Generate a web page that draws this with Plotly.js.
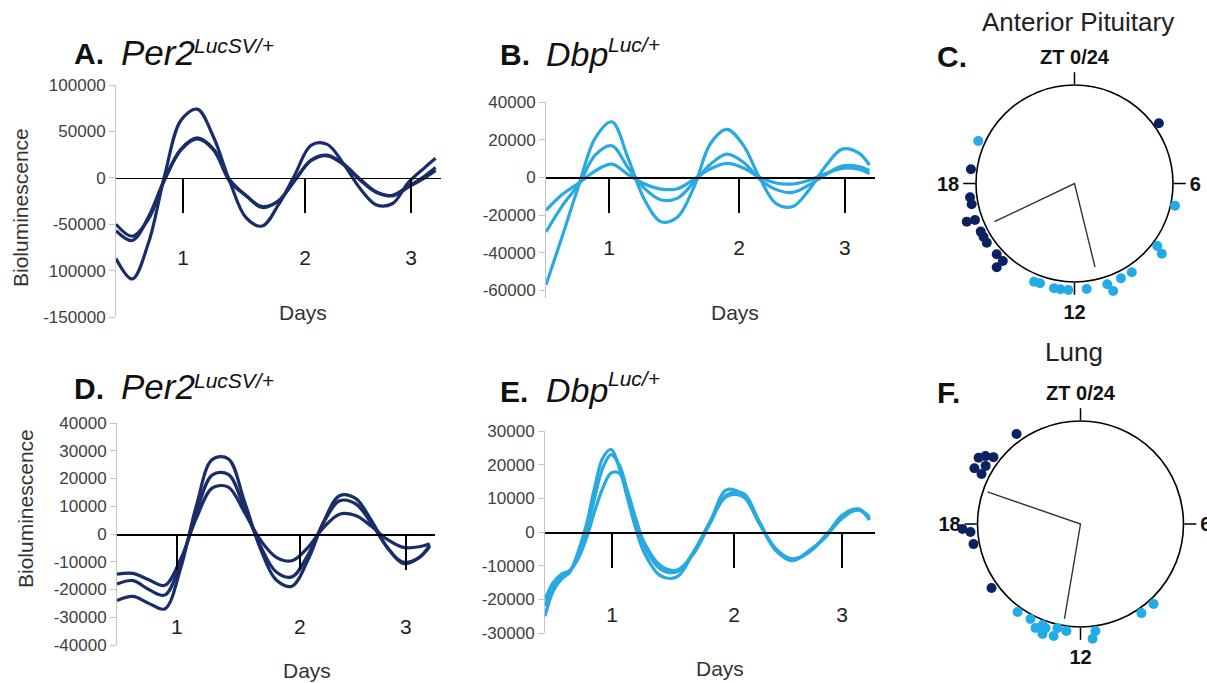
<!DOCTYPE html>
<html><head><meta charset="utf-8">
<script src="https://cdn.plot.ly/plotly-3.0.1.min.js"></script>
<style>html,body{margin:0;padding:0;background:#fff}#chart{width:1207px;height:683px}</style>
</head><body><div id="chart"></div>
<script>
// ---------------- DATA ----------------
// time in hours from start of recording
const timeStd = [0,3,6,9,12,15,18,21,24,27,30,33,36,39,42,45,48,51,54,57,59];
const timeE   = [0,1.5,3,4.5,6,7.5,9,10.5,12,13.5,15,16.5,18,21,24,27,30,33,36,39,42,45,48,51,54,57,59];

// A. Per2 LucSV/+ anterior pituitary
const per2AP_1 = [-87000,-109000,-70000,3000,62000,74000,44000,-4000,-43000,-52000,-29000,3000,35000,36000,15000,-11000,-29000,-28000,-5000,11000,21000];
const per2AP_2 = [-50000,-63000,-44500,-2000,30000,41800,30000,-4000,-19400,-32000,-24800,-2800,18400,23700,14200,-2000,-15500,-18800,-9000,2000,11000];
const per2AP_3 = [-57000,-67500,-42000,-1000,31000,43000,31000,-2000,-19000,-31000,-25000,-3000,19000,24500,15000,-1000,-15000,-19500,-10000,0,8000];
// B. Dbp Luc/+ anterior pituitary
const dbpAP_1 = [-57000,-31000,-4000,21000,29500,10000,-12000,-23500,-21000,-5000,18000,25500,17000,-500,-14000,-15500,-6500,6000,15000,13000,6500];
const dbpAP_2 = [-29000,-15000,-3500,12000,16800,5000,-6000,-12000,-11000,-2500,7000,12300,8000,-1000,-6500,-8000,-4000,1500,6000,5800,3500];
const dbpAP_3 = [-17500,-9000,-3000,3500,7000,1500,-3500,-6200,-6000,-1000,4500,7400,5000,0,-3000,-3500,-1500,2000,4800,4300,2000];
// D. Per2 LucSV/+ lung
const per2Lung_1 = [-24000,-22500,-25000,-27000,-12400,10400,26900,27100,12000,-5000,-16500,-18800,-9500,4500,13800,12800,4900,-4800,-10600,-8500,-4000];
const per2Lung_2 = [-18000,-16800,-20000,-22000,-10400,8000,21300,21500,9500,-4000,-13600,-15450,-7650,4150,11950,10900,3850,-4900,-10150,-8500,-4500];
const per2Lung_3 = [-14500,-14200,-16500,-18500,-9100,5800,16600,16900,8000,-2000,-8300,-9650,-4900,2400,7150,6650,2800,-1950,-4800,-4600,-3500];
// E. Dbp Luc/+ lung
const dbpLung_1 = [-25000,-17500,-14000,-12000,-6000,2000,13000,22000,24500,19000,10000,1000,-6000,-13000,-13300,-6000,3000,12500,11000,2500,-5500,-8500,-5500,-1500,5000,6800,3500];
const dbpLung_2 = [-22000,-16000,-13000,-11500,-7000,0,10000,19000,23000,20000,12000,3000,-4000,-11000,-11800,-6000,3000,10500,10500,2500,-5000,-8000,-6000,-1000,4500,6500,4500];
const dbpLung_3 = [-20000,-15000,-12500,-11500,-8000,-2000,6000,13000,17500,17500,12000,4000,-3000,-10000,-11300,-6500,2500,11000,11500,3000,-5500,-8300,-6000,-1500,4000,6800,4000];

// day tick positions (hours) and labels
const dayLabels = ['1','2','3'];
const dayPosA = [12.4,34.9,54.5];
const dayPosB = [11.5,35.2,54.5];
const dayPosD = [11.3,34.5,54.5];
const dayPosE = [12.2,34.4,54.0];

// y ticks
const yTicksA = [100000,50000,0,-50000,-100000,-150000];
const yTextA  = ['100000','50000','0','-50000','100000','-150000'];
const yTicksB = [40000,20000,0,-20000,-40000,-60000];
const yTicksD = [40000,30000,20000,10000,0,-10000,-20000,-30000,-40000];
const yTicksE = [30000,20000,10000,0,-10000,-20000,-30000];

// Phase plots: peak times (ZT hours) and plotted radius (circle = 1)
const clockTickZT = [0, 6, 12, 18];
const clockTickText = ['ZT 0/24', '6', '12', '18'];

const apPer2ZT = [3.63,18.52,17.5,17.24,16.7,16.66,16.19,15.98,15.73,15.18,14.85,14.86];
const apPer2R  = [1.053,1.061,1.07,1.065,1.16,1.076,1.07,1.07,1.075,1.068,1.072,1.16];
const apDbpZT  = [19.59,6.83,8.47,8.59,9.81,10.26,10.8,10.68,11.56,12.22,12.5,12.74,13.27,13.49];
const apDbpR   = [1.068,1.045,1.053,1.138,1.072,1.072,1.076,1.16,1.078,1.083,1.083,1.084,1.072,1.078];
const apMeanZT = [16.3, 11.08];
const apMeanR  = [0.90, 0.873];

const lungPer2ZT = [21.64,20.2,20.37,20.5,19.85,20.1,19.79,17.84,17.72,17.29,15.62];
const lungPer2R  = [1.072,1.18,1.134,1.066,1.164,1.08,1.077,1.147,1.071,1.057,1.064];
const lungDbpZT  = [14.37,13.85,13.56,13.37,13.24,13.27,12.9,12.83,12.5,11.47,11.6,9.71,9.17];
const lungDbpR   = [1.05,1.043,1.1,1.048,1.065,1.13,1.118,1.034,1.048,1.049,1.12,1.048,1.051];
const lungMeanZT = [19.27, 12.64];
const lungMeanR  = [0.955, 0.935];

// ---------------- STYLE / LAYOUT ----------------
const W = 1207, H = 683;
const fx = px => px / W;
const fy = py => 1 - py / H;
const FONT = 'Liberation Sans, Arial, sans-serif';
const NAVY = '#1a2d6b', SKY = '#29a9e1', NAVYDOT = '#0c2260', SKYDOT = '#22abe6';
const toDeg = h => h * 15;
const OUTER = 1.2;   // radial range of the data layer (circle sits at r = 1)

const traces = [];
function lineTrace(t, y, color, xa, ya) {
  traces.push({type: 'scatter', mode: 'lines', x: t, y: y, xaxis: xa, yaxis: ya,
    line: {color: color, width: 3.2, shape: 'spline', smoothing: 1}, hoverinfo: 'skip', showlegend: false});
}
[per2AP_1, per2AP_2, per2AP_3].forEach(s => lineTrace(timeStd, s, NAVY, 'x', 'y'));
[dbpAP_1, dbpAP_2, dbpAP_3].forEach(s => lineTrace(timeStd, s, SKY, 'x2', 'y2'));
[per2Lung_1, per2Lung_2, per2Lung_3].forEach(s => lineTrace(timeStd, s, NAVY, 'x3', 'y3'));
[dbpLung_1, dbpLung_2, dbpLung_3].forEach(s => lineTrace(timeE, s, SKY, 'x4', 'y4'));

function polarTraces(frameSub, dataSub, per2ZT, per2R, dbpZT, dbpR, meanZT, meanR) {
  // invisible trace so the frame subplot is drawn
  traces.push({type: 'scatterpolar', subplot: frameSub, mode: 'markers', r: [0], theta: [0],
    marker: {opacity: 0}, showlegend: false, hoverinfo: 'skip'});
  traces.push({type: 'scatterpolar', subplot: dataSub, mode: 'lines',
    r: [meanR[0], 0, meanR[1]], theta: [toDeg(meanZT[0]), toDeg(meanZT[0]), toDeg(meanZT[1])],
    line: {color: '#333', width: 1.4}, showlegend: false, hoverinfo: 'skip'});
  traces.push({type: 'scatterpolar', subplot: dataSub, mode: 'markers', cliponaxis: false,
    r: per2R, theta: per2ZT.map(toDeg), marker: {color: NAVYDOT, size: 10}, showlegend: false});
  traces.push({type: 'scatterpolar', subplot: dataSub, mode: 'markers', cliponaxis: false,
    r: dbpR, theta: dbpZT.map(toDeg), marker: {color: SKYDOT, size: 10}, showlegend: false});
}
polarTraces('polar', 'polar2', apPer2ZT, apPer2R, apDbpZT, apDbpR, apMeanZT, apMeanR);
polarTraces('polar3', 'polar4', lungPer2ZT, lungPer2R, lungDbpZT, lungDbpR, lungMeanZT, lungMeanR);

function xAxis(x0, x1, yAx, dayPos, standoff) {
  const pos = yAx.domain[0] + (0 - yAx.range[0]) / (yAx.range[1] - yAx.range[0]) * (yAx.domain[1] - yAx.domain[0]);
  return {domain: [fx(x0), fx(x1)], range: [0, 60], anchor: 'free', position: pos,
    showline: true, linecolor: '#000', linewidth: 1.6, showgrid: false, zeroline: false,
    ticks: 'outside', ticklen: 34, tickwidth: 1.6, tickcolor: '#000',
    tickvals: dayPos, ticktext: dayLabels, ticklabelstandoff: standoff,
    tickfont: {family: FONT, size: 21, color: '#222'}, fixedrange: true};
}
function yAxis(top, bottom, range, tv, tt, xa) {
  return {domain: [fy(bottom), fy(top)], range: range, anchor: xa,
    showline: true, linecolor: '#c4c4c4', linewidth: 1, showgrid: false, zeroline: false,
    ticks: 'outside', ticklen: 6, tickcolor: '#c4c4c4', tickvals: tv, ticktext: tt,
    tickfont: {family: FONT, size: 17, color: '#404040'}, fixedrange: true};
}
const yA = yAxis(85, 317, [-150000, 100000], yTicksA, yTextA, 'x');
const yB = yAxis(102, 298, [-64000, 40000], yTicksB, yTicksB.map(String), 'x2');
const yD = yAxis(423, 645, [-40000, 40000], yTicksD, yTicksD.map(String), 'x3');
const yE = yAxis(431, 633, [-30000, 30000], yTicksE, yTicksE.map(String), 'x4');

// frame polar: circle (r = 1), clock ticks and labels
function framePolar(cx, cy, rad) {
  return {domain: {x: [fx(cx - rad), fx(cx + rad)], y: [fy(cy + rad), fy(cy - rad)]}, bgcolor: '#fff',
    radialaxis: {visible: false, range: [0, 1]},
    angularaxis: {rotation: 90, direction: 'clockwise', tickvals: clockTickZT.map(toDeg),
      ticktext: clockTickText.map(s => '<b>' + s + '</b>'),
      ticks: 'outside', ticklen: 12, tickwidth: 1.5, tickcolor: '#000',
      linecolor: '#000', linewidth: 1.6, showgrid: false,
      tickfont: {family: FONT, size: 20, color: '#111'}}};
}
// data polar: same centre, larger radial range so marks can sit outside the circle
function dataPolar(cx, cy, rad) {
  const R = rad * OUTER;
  return {domain: {x: [fx(cx - R), fx(cx + R)], y: [fy(cy + R), fy(cy - R)]}, bgcolor: 'rgba(0,0,0,0)',
    radialaxis: {visible: false, range: [0, OUTER]},
    angularaxis: {visible: false, rotation: 90, direction: 'clockwise', showgrid: false, showline: false}};
}

function ann(text, px, py, size, opts) {
  return Object.assign({text: text, x: fx(px), y: fy(py), xref: 'paper', yref: 'paper',
    xanchor: 'left', yanchor: 'middle', showarrow: false,
    font: {family: FONT, size: size, color: '#111'}}, opts || {});
}
const annotations = [
  ann('<b>A.</b>', 72, 54, 30), ann('<i>Per2</i>', 119, 52, 35), ann('<i>LucSV/+</i>', 192, 46, 21),
  ann('<b>B.</b>', 498, 55, 30), ann('<i>Dbp</i>', 544, 54, 34), ann('<i>Luc/+</i>', 606, 44, 21),
  ann('<b>D.</b>', 72, 388, 30), ann('<i>Per2</i>', 119, 386, 35), ann('<i>LucSV/+</i>', 192, 380, 21),
  ann('<b>E.</b>', 498, 391, 30), ann('<i>Dbp</i>', 544, 390, 34), ann('<i>Luc/+</i>', 606, 378, 21),
  ann('<b>C.</b>', 935, 56, 30), ann('<b>F.</b>', 935, 392, 30),
  ann('Anterior Pituitary', 1078, 22, 26, {xanchor: 'center', font: {family: FONT, size: 26, color: '#222'}}),
  ann('Lung', 1074, 352, 26, {xanchor: 'center', font: {family: FONT, size: 26, color: '#222'}}),
  ann('Days', 303, 313, 21, {xanchor: 'center', font: {family: FONT, size: 21, color: '#333'}}),
  ann('Days', 735, 313, 21, {xanchor: 'center', font: {family: FONT, size: 21, color: '#333'}}),
  ann('Days', 307, 670, 21, {xanchor: 'center', font: {family: FONT, size: 21, color: '#333'}}),
  ann('Days', 720, 668, 21, {xanchor: 'center', font: {family: FONT, size: 21, color: '#333'}}),
  ann('Bioluminescence', 20, 208, 21, {xanchor: 'center', textangle: -90, font: {family: FONT, size: 21, color: '#333'}}),
  ann('Bioluminescence', 25, 509, 21, {xanchor: 'center', textangle: -90, font: {family: FONT, size: 21, color: '#333'}})
];

const layout = {
  width: W, height: H, margin: {l: 0, r: 0, t: 0, b: 0},
  paper_bgcolor: '#fff', plot_bgcolor: 'rgba(0,0,0,0)', showlegend: false,
  font: {family: FONT},
  xaxis: xAxis(116, 441, yA, dayPosA, 26),
  xaxis2: xAxis(546, 875, yB, dayPosB, 17),
  xaxis3: xAxis(117, 435, yD, dayPosD, 39),
  xaxis4: xAxis(545, 875, yE, dayPosE, 29),
  yaxis: yA, yaxis2: yB, yaxis3: yD, yaxis4: yE,
  polar: framePolar(1074.5, 183.5, 98.5),
  polar2: dataPolar(1074.5, 183.5, 98.5),
  polar3: framePolar(1080.5, 524, 103),
  polar4: dataPolar(1080.5, 524, 103),
  annotations: annotations
};
Plotly.newPlot('chart', traces, layout, {staticPlot: true, displayModeBar: false});
</script></body></html>
